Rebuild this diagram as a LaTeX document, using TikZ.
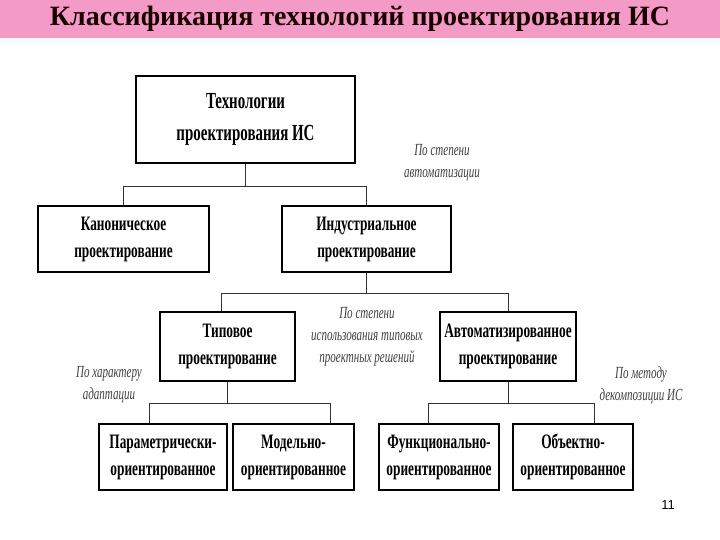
\documentclass[tikz,border=0pt]{standalone}
\usepackage{fontspec}
\setmainfont{Liberation Serif}
\newfontfamily\cond[FakeStretch=0.65]{Liberation Serif}
\newfontfamily\arialf{Liberation Sans}
\definecolor{titlepink}{HTML}{F49AC6}
\begin{document}
\begin{tikzpicture}[x=1pt,y=-1pt,
  box/.style={draw,line width=1.3pt,fill=white,minimum width=#1,align=center,font=\cond\fontsize{20.5}{27}\bfseries\selectfont,inner sep=0pt},
  lbl/.style={align=center,font=\cond\fontsize{17}{22}\itshape\selectfont,text=black!75},
  ln/.style={line width=0.9pt,draw=black!80}]
\useasboundingbox (0,0) rectangle (720,540);
\fill[white] (0,0) rectangle (720,540);
\fill[titlepink] (0,0) rectangle (720,38);
\fill[cyan!4] (0,38) rectangle (720,44);
\node[font=\fontsize{28}{30}\bfseries\selectfont,text=black!90!red] (title) at (360,19) {Классификация технологий проектирования ИС};
\node[box=219pt,minimum height=87pt,font=\cond\fontsize{23}{32}\bfseries\selectfont] (top) at (245.5,119.5) {Технологии\\проектирования ИС};
\node[box=171pt,minimum height=66pt] (kan) at (123.5,239) {Каноническое\\проектирование};
\node[box=169pt,minimum height=66pt] (ind) at (366.5,239) {Индустриальное\\проектирование};
\node[box=135pt,minimum height=69pt] (tip) at (227.5,346.5) {Типовое\\проектирование};
\node[box=136pt,minimum height=69pt] (avt) at (508,346.5) {Автоматизированное\\проектирование};
\node[box=128pt,minimum height=66pt] (par) at (163,457) {Параметрически-\\ориентированное};
\node[box=121pt,minimum height=66pt] (mod) at (293.5,457) {Модельно-\\ориентированное};
\node[box=120pt,minimum height=66pt] (fun) at (439,457) {Функционально-\\ориентированное};
\node[box=120pt,minimum height=66pt] (obj) at (573,457) {Объектно-\\ориентированное};
\draw[ln] (top.south) -- ++(0,23) coordinate (j1);
\draw[ln] (kan.north) |- (j1) -| (ind.north);
\draw[ln] (ind.south) -- ++(0,21) coordinate (j2);
\draw[ln] ([xshift=-6.5pt]tip.north) |- (j2) -| (avt.north);
\draw[ln] (tip.south) -- ++(0,22) coordinate (j3);
\draw[ln] ([xshift=-14pt]par.north) |- (j3) -| ([xshift=36.5pt]mod.north);
\draw[ln] (avt.south) -- ++(0,22) coordinate (j4);
\draw[ln] ([xshift=-11pt]fun.north) |- (j4) -| ([xshift=21pt]obj.north);
\node[lbl] (l1) at (442,163) {По степени\\автоматизации};
\node[lbl] (l2) at (367,337) {По степени\\использования типовых\\проектных решений};
\node[lbl] (l3) at (109,385) {По характеру\\адаптации};
\node[lbl] (l4) at (641,385) {По методу\\декомпозиции ИС};
\node[font=\arialf\fontsize{13}{14}\selectfont] (pg) at (668,505) {11};
\end{tikzpicture}
\end{document}
